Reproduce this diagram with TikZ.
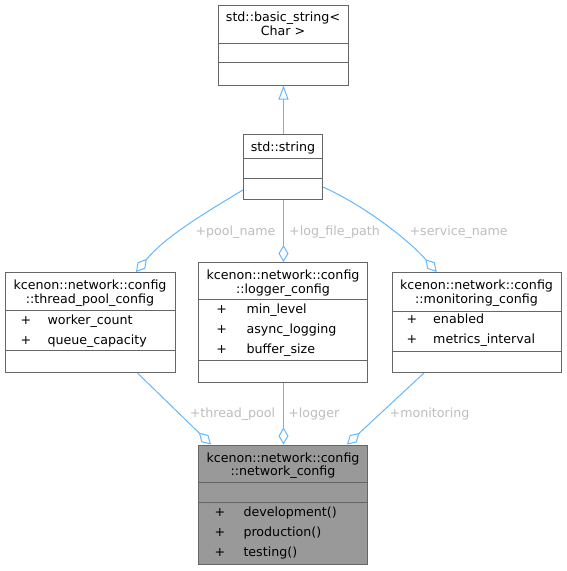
\documentclass[tikz,border=0pt]{standalone}
\usepackage{fontspec}
\setmainfont{DejaVu Sans}
\usetikzlibrary{arrows.meta}
\definecolor{boxborder}{HTML}{666666}
\definecolor{edgeblue}{HTML}{63B8FF}
\definecolor{labelgrey}{HTML}{BEBEBE}
\definecolor{mainfill}{HTML}{999999}
\tikzset{
  umlbox/.style={draw=boxborder, line width=1pt, inner sep=0pt, fill=white},
  divider/.style={draw=boxborder, line width=1pt},
  txt/.style={inner sep=0pt, font=\fontsize{12.65}{14}\selectfont, text height=0.76em, text depth=0.24em, yshift=-2.2pt},
  lbl/.style={txt, text=labelgrey},
  edge/.style={draw=edgeblue, line width=1pt},
  agg/.style={edge, -{Diamond[open, length=17pt, width=10pt]}},
  inh/.style={edge, -{Triangle[open, length=14pt, width=10pt]}},
}
\begin{document}
\begin{tikzpicture}[x=1pt,y=-1pt]
\useasboundingbox[fill=white] (0,0) rectangle (567,571);

% ---- boxes ----
\node[umlbox, minimum width=130pt, minimum height=80pt] (bs) at (283,45) {};
\draw[divider] (bs.west |- 0,43) -- (bs.east |- 0,43);
\draw[divider] (bs.west |- 0,62) -- (bs.east |- 0,62);
\node[txt] (bs1) at (283,16.7) {std::basic\_string<};
\node[txt] (bs2) at (283,31) {Char >};

\node[umlbox, minimum width=79pt, minimum height=65pt] (str) at (283,167) {};
\draw[divider] (str.west |- 0,158) -- (str.east |- 0,158);
\draw[divider] (str.west |- 0,178) -- (str.east |- 0,178);
\node[txt] (str1) at (283,146.7) {std::string};

\node[umlbox, minimum width=170pt, minimum height=100pt] (tp) at (90,322.5) {};
\draw[divider] (tp.west |- 0,310.5) -- (tp.east |- 0,310.5);
\draw[divider] (tp.west |- 0,350.5) -- (tp.east |- 0,350.5);
\node[txt] (tp1) at (90,285) {kcenon::network::config};
\node[txt] (tp2) at (90,299) {::thread\_pool\_config};
\node[txt] (tpp1) at (26,319.3) {+};
\node[txt, anchor=west] (tpa1) at (47.3,319.3) {worker\_count};
\node[txt] (tpp2) at (26,339.3) {+};
\node[txt, anchor=west] (tpa2) at (47.3,339.3) {queue\_capacity};

\node[umlbox, minimum width=169pt, minimum height=120pt] (log) at (283,322.5) {};
\draw[divider] (log.west |- 0,299.5) -- (log.east |- 0,299.5);
\draw[divider] (log.west |- 0,360) -- (log.east |- 0,360);
\node[txt] (log1) at (283,274.3) {kcenon::network::config};
\node[txt] (log2) at (283,288.3) {::logger\_config};
\node[txt] (logp1) at (221.7,308.3) {+};
\node[txt, anchor=west] (loga1) at (246.3,308.3) {min\_level};
\node[txt] (logp2) at (221.7,328.3) {+};
\node[txt, anchor=west] (loga2) at (246.3,328.3) {async\_logging};
\node[txt] (logp3) at (221.7,348.3) {+};
\node[txt, anchor=west] (loga3) at (246.3,348.3) {buffer\_size};

\node[umlbox, minimum width=169pt, minimum height=100pt] (mon) at (476.5,322.5) {};
\draw[divider] (mon.west |- 0,311) -- (mon.east |- 0,311);
\draw[divider] (mon.west |- 0,351) -- (mon.east |- 0,351);
\node[txt] (mon1) at (476.5,285) {kcenon::network::config};
\node[txt] (mon2) at (476.5,299) {::monitoring\_config};
\node[txt] (monp1) at (412,319) {+};
\node[txt, anchor=west] (mona1) at (433,319) {enabled};
\node[txt] (monp2) at (412,339) {+};
\node[txt, anchor=west] (mona2) at (433,339) {metrics\_interval};

\node[umlbox, fill=mainfill, minimum width=169pt, minimum height=119.5pt] (net) at (283,504.75) {};
\draw[divider] (net.west |- 0,482.5) -- (net.east |- 0,482.5);
\draw[divider] (net.west |- 0,502.5) -- (net.east |- 0,502.5);
\node[txt] (net1) at (283,457.3) {kcenon::network::config};
\node[txt] (net2) at (283,470.7) {::network\_config};
\node[txt] (netp1) at (220,511.7) {+};
\node[txt, anchor=west] (netm1) at (243.3,511.7) {development()};
\node[txt] (netp2) at (220,531.7) {+};
\node[txt, anchor=west] (netm2) at (243.3,531.7) {production()};
\node[txt] (netp3) at (220,551.7) {+};
\node[txt, anchor=west] (netm3) at (243.3,551.7) {testing()};

% ---- connectors ----
\draw[inh] ([xshift=0.5pt]str.north) -- ([xshift=0.5pt]bs.south);
\draw[agg] ([yshift=-23pt]str.west) .. controls +(-40,24) and +(29,-35) .. ([xshift=46pt]tp.north);
\draw[agg] ([xshift=0.5pt]str.south) -- ([xshift=0.5pt]log.north);
\draw[agg] ([yshift=-20pt]str.east) .. controls +(40,18) and +(-30,-34) .. ([xshift=-39.8pt]mon.north);

\draw[agg] ([xshift=47.5pt]tp.south) -- ([xshift=-72pt]net.north);
\draw[agg] ([xshift=0.5pt]log.south) -- ([xshift=0.5pt]net.north);
\draw[agg] ([xshift=-52.5pt]mon.south) -- ([xshift=64pt]net.north);

% ---- labels ----
\node[lbl] (l1) at (235.5,230.5) {+pool\_name};
\node[lbl] (l2) at (334.5,230.5) {+log\_file\_path};
\node[lbl] (l3) at (458.7,230.5) {+service\_name};
\node[lbl] (l4) at (232.5,412.7) {+thread\_pool};
\node[lbl] (l5) at (313.8,412.7) {+logger};
\node[lbl] (l6) at (429.5,412.7) {+monitoring};
\end{tikzpicture}
\end{document}
